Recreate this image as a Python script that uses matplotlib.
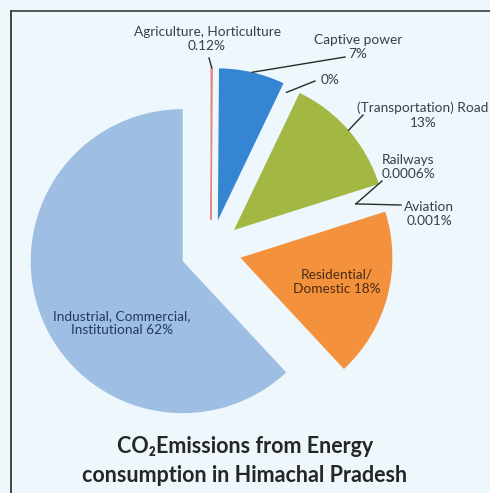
import numpy as np
import matplotlib.pyplot as plt
from matplotlib.lines import Line2D

# data (clockwise from 12 o'clock)
sectors = ['Agriculture, Horticulture', 'Captive power', '', '(Transportation) Road',
           'Railways', 'Aviation', 'Residential/\nDomestic', 'Industrial, Commercial,\nInstitutional']
shares = [0.12, 7, 0, 13, 0.0006, 0.001, 18, 62]
share_labels = ['0.12%', '7%', '0%', '13%', '0.0006%', '0.001%', '18%', '62%']
colors = ['#d9534f', '#3586d2', '#888888', '#a3b843', '#7f6aa8', '#4bacc6', '#f4913d', '#9fbee3']

W, H = 490, 493
bg = '#eef7fb'
txt = '#3a3f45'
plt.rcParams['font.family'] = ['Lato', 'DejaVu Sans']

fig = plt.figure(figsize=(W / 100, H / 100), dpi=100, facecolor=bg)
ax = fig.add_axes([0, 0, 1, 1])
ax.set_facecolor(bg)

# pie geometry in pixels (explode is absolute in matplotlib, so scale by radius)
R = 152
cx, cy = 211, H - 250
wedges, _ = ax.pie(shares, colors=colors, startangle=90, counterclock=False,
                   explode=[0.2 * R] * len(shares), radius=R, center=(cx, cy),
                   wedgeprops=dict(linewidth=0))
wedges[0].set_edgecolor('#e58583')
wedges[0].set_linewidth(0.9)
ax.set_xlim(0, W)
ax.set_ylim(0, H)
ax.set_aspect('equal')
ax.axis('off')


def point(i, frac):
    w = wedges[i]
    a = np.deg2rad((w.theta1 + w.theta2) / 2)
    x0, y0 = w.center
    return x0 + frac * w.r * np.cos(a), y0 + frac * w.r * np.sin(a)


# outside labels: (index, text centre in px from top-left, anchor fraction, line end in px)
outside = [
    (0, (207, 39), 1.0, (209, 58)),
    (1, (358, 47), 1.0, (345, 57)),
    (2, (330, 80), 0.95, (315, 81)),
    (3, (423, 115), 1.0, (363, 115)),
    (4, (408, 167), 0.8, (382, 181)),
    (5, (429, 214), 0.8, (401, 205)),
]
fs = 9.8
for i, (tx, ty), frac, (lx, ly) in outside:
    name = sectors[i]
    s = (name + '\n' + share_labels[i]) if name else share_labels[i]
    ax.text(tx, H - ty, s, ha='center', va='center', fontsize=fs, color=txt,
            linespacing=1.25)
    px, py = point(i, frac)
    ax.add_line(Line2D([px, lx], [py, H - ly], color='#2a2a2a', lw=1.0))

# inside labels
ax.text(337, H - 282, sectors[6] + ' ' + share_labels[6], ha='center', va='center',
        fontsize=fs, color='#4a2c12', linespacing=1.25)
ax.text(122, H - 323, sectors[7] + ' ' + share_labels[7], ha='center', va='center',
        fontsize=fs, color='#24385a', linespacing=1.25)

# title
ax.text(245, H - 461, 'CO\u2082Emissions from Energy\nconsumption in Himachal Pradesh',
        ha='center', va='center', fontsize=15.5, fontweight='bold', color='#262626',
        linespacing=1.42)

# frame lines (top and left)
fig.add_artist(Line2D([11 / W, 1], [1 - 11 / H, 1 - 11 / H], transform=fig.transFigure,
                      color='#555555', lw=1.4))
fig.add_artist(Line2D([11 / W, 11 / W], [0, 1 - 11 / H], transform=fig.transFigure,
                      color='#444444', lw=1.4))

fig.savefig('out.png', dpi=100, facecolor=bg)
